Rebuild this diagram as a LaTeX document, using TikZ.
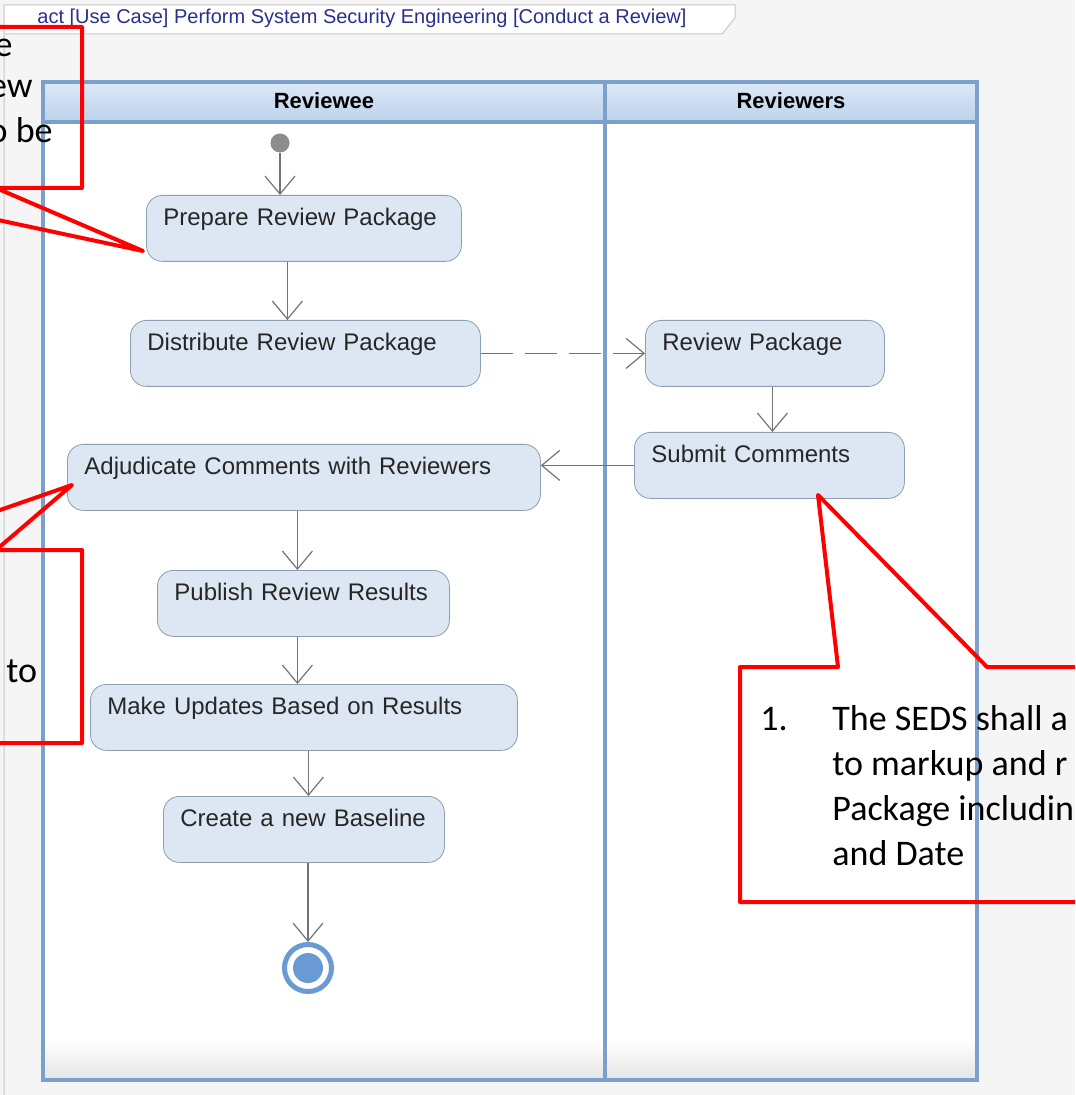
\documentclass[tikz,border=0pt]{standalone}
\usepackage{fontspec}
\setmainfont{Liberation Sans}
\newfontfamily\notefont{Carlito}
\usetikzlibrary{arrows.meta}

\definecolor{lanecol}{HTML}{7BA0CC}
\definecolor{headtop}{HTML}{DCE8F6}
\definecolor{headbot}{HTML}{BCD2EC}
\definecolor{actfill}{HTML}{DCE7F3}
\definecolor{actline}{HTML}{8C9EB2}
\definecolor{flowcol}{HTML}{747474}
\definecolor{titlecol}{HTML}{2B2F8F}
\definecolor{bgcol}{HTML}{F5F5F5}
\definecolor{fincol}{HTML}{6A9AD4}

\tikzset{
  act/.style={draw=actline, fill=actfill, rounded corners=8pt, anchor=north west,
    align=left, text width=#1, inner xsep=8.5pt, inner ysep=6pt,
    text height=9pt, text depth=12pt, text=black!85, font=\fontsize{12}{14}\selectfont},
  flow/.style={draw=flowcol, line width=0.6pt, -{Straight Barb[length=9pt,width=15pt]}},
  lanehead/.style={font=\bfseries\fontsize{11}{13}\selectfont, inner sep=0pt},
  callout/.style={draw=red, line width=2pt, line join=round},
  note/.style={font=\notefont\fontsize{18}{22}\selectfont, inner sep=0pt}
}

\begin{document}
\begin{tikzpicture}[x=0.5pt,y=-0.5pt]
\useasboundingbox (0,0) rectangle (1075,1095);
\clip (0,0) rectangle (1075,1095);
\fill[bgcol] (0,0) rectangle (1075,1095);

% frame and its name tab
\filldraw[fill=white, draw=black!22, line width=0.5pt] (4,1095) -- (4,5) -- (735,5) -- (735,18) -- (722,34) -- (4,34);
\node[font=\fontsize{10}{12}\selectfont, text=titlecol, anchor=west, inner sep=0pt] (title) at (37,18)
  {act [Use Case] Perform System Security Engineering [Conduct a Review]};

% swimlanes
\fill[white] (43,82) rectangle (977,1080);
\shade[top color=white, bottom color=black!10] (45,1040) rectangle (975,1078);
\shade[top color=headtop, bottom color=headbot] (43,82) rectangle (977,122);
\draw[lanecol, line width=2pt] (43,82) rectangle (977,1080);
\draw[lanecol, line width=2pt] (43,122) -- (977,122);
\draw[lanecol, line width=2pt] (605,82) -- (605,1080);
\node[lanehead] (leeh) at (324,101) {Reviewee};
\node[lanehead] (lerh) at (791,101) {Reviewers};

% actions
\node[circle, fill=gray!90, inner sep=0pt, minimum size=9.5pt] (start) at (280,143) {};
\node[act=140.5pt] (prep) at (146,195) {Prepare Review Package};
\node[act=158pt] (dist) at (130,320) {Distribute Review Package};
\node[act=102.5pt] (rev) at (645,320) {Review Package};
\node[act=118pt] (sub) at (634,432) {Submit Comments};
\node[act=219.5pt] (adj) at (67,444) {Adjudicate Comments with Reviewers};
\node[act=129pt] (pub) at (157,570) {Publish Review Results};
\node[act=196.5pt] (upd) at (90,684) {Make Updates Based on Results};
\node[act=123.5pt] (base) at (163,796) {Create a new Baseline};
\node[circle, draw=fincol, line width=2.5pt, fill=white, inner sep=0pt, minimum size=23.5pt,
  path picture={\fill[fincol] (path picture bounding box.center) circle (7.5pt);}] (fin) at (308,968) {};

% control flows
\draw[flow] (start.south) -- (start.south |- prep.north);
\draw[flow] ([xshift=-8.25pt]prep.south) -- ([xshift=-8.25pt]prep.south |- dist.north);
\draw[flow, dash pattern=on 16pt off 6pt] (dist.east) -- (rev.west);
\draw[flow] ([xshift=3.75pt]rev.south) -- ([xshift=3.75pt]rev.south |- sub.north);
\draw[flow] (sub.west) -- (sub.west -| adj.east);
\draw[flow] ([xshift=-3.25pt]adj.south) -- ([xshift=-3.25pt]adj.south |- pub.north);
\draw[flow] ([xshift=-3pt]pub.south) -- ([xshift=-3pt]pub.south |- upd.north);
\draw[flow] ([xshift=2.25pt]upd.south) -- ([xshift=2.25pt]upd.south |- base.north);
\draw[flow] (fin |- base.south) -- (fin.north);

% red callouts
\draw[callout] (-4,188) -- (82,188) -- (82,27) -- (-200,27) -- (-200,188) -- (-152,188) -- (143,251) -- cycle;
\node[note, anchor=base east] (n1a) at (13,57) {e};
\node[note, anchor=base east] (n1b) at (33,98) {ew};
\node[note, anchor=base east] (n1c) at (53,143) {o be};

\draw[callout] (-4,550) -- (82,550) -- (82,743) -- (-200,743) -- (-200,550) -- (-115,550) -- (72,485) -- cycle;
\node[note, anchor=base west] (n2a) at (6,682) {to};

\draw[callout] (838,667) -- (818,495) -- (987,667) -- (1200,667) -- (1200,902) -- (740,902) -- (740,667) -- cycle;
\node[note, anchor=base west] (n3n) at (760,730) {1.};
\foreach \t [count=\i] in {The SEDS shall a, to markup and r, Package includin, and Date}
  \node[note, anchor=base west] (n3l\i) at (832,{730+45*(\i-1)}) {\t};
\end{tikzpicture}
\end{document}
